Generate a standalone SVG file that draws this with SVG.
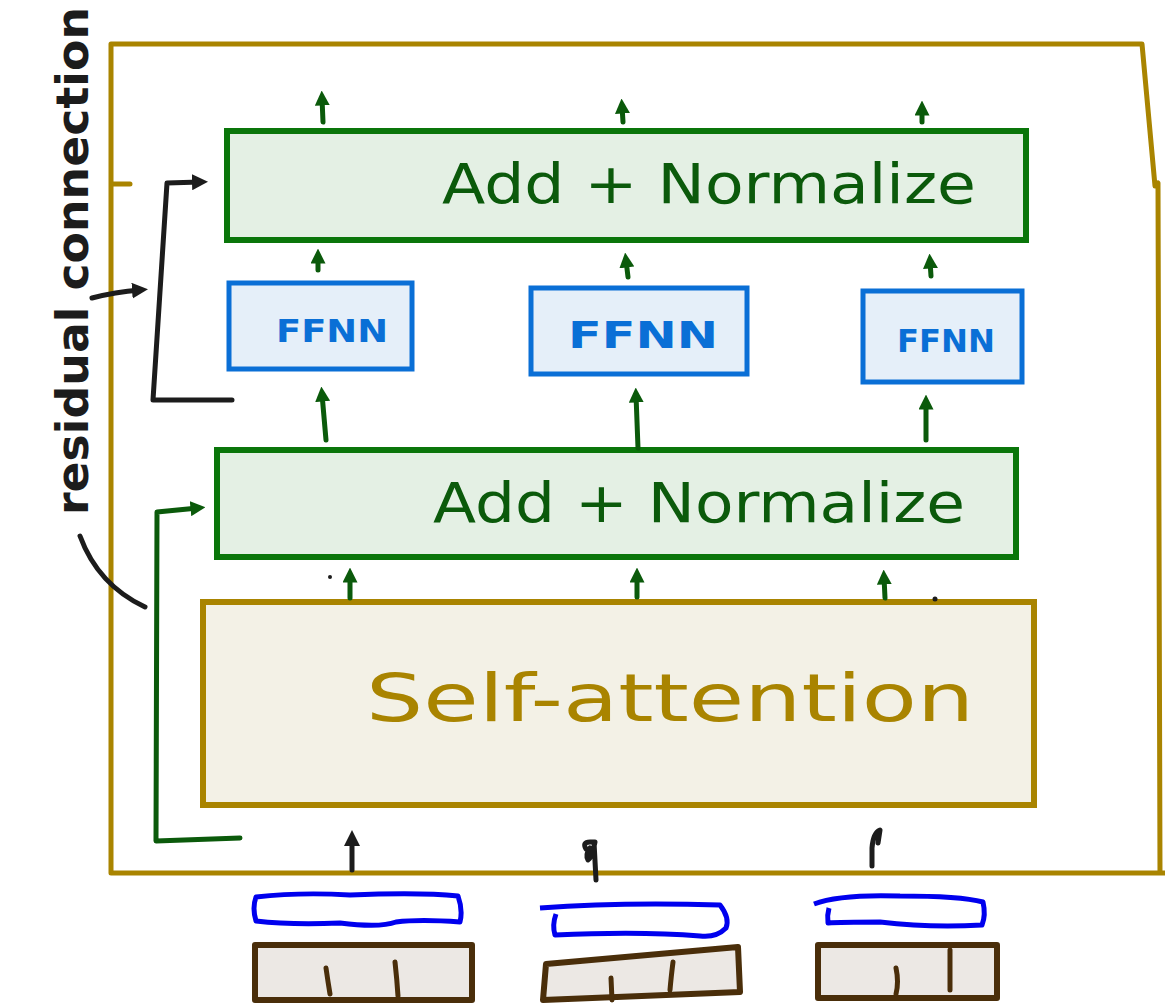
<svg xmlns="http://www.w3.org/2000/svg" width="1165" height="1006" viewBox="0 0 1165 1006">
<style>
.gold{fill:none;stroke:#a98400;stroke-width:5;stroke-linejoin:round;stroke-linecap:round}
.an rect{fill:#e4f0e4;stroke:#0a760a;stroke-width:6}
.ff rect{fill:#e5eff9;stroke:#0a6fd6;stroke-width:5}
.sa rect{fill:#f3f1e6;stroke:#a98400;stroke-width:6}
.in rect,.in path.box{fill:#ece8e4;stroke:#4a2e0a;stroke-width:6;stroke-linejoin:round}
.in path.mark{fill:none;stroke:#4a2e0a;stroke-width:5;stroke-linecap:round}
.in path.emb{fill:none;stroke:#0000ee;stroke-width:5;stroke-linejoin:round}
.tg{font-family:"DejaVu Sans",sans-serif;fill:#0b5a0b}
.tb{font-family:"DejaVu Sans",sans-serif;fill:#0a6fd6;font-weight:bold}
.ty{font-family:"DejaVu Sans",sans-serif;fill:#a98400}
.tk{font-family:"DejaVu Sans",sans-serif;fill:#1c1c1c;font-weight:bold}
.ga{fill:none;stroke:#0b5a0b;stroke-width:5;stroke-linecap:round;stroke-linejoin:round}
.ka{fill:none;stroke:#1c1c1c;stroke-width:5;stroke-linecap:round;stroke-linejoin:round}
</style>
<defs>
<marker id="hg" viewBox="0 0 10 10" refX="5" refY="5" markerWidth="3" markerHeight="3" orient="auto"><path d="M0,0 L10,5 L0,10 z" fill="#0b5a0b"/></marker>
<marker id="hk" viewBox="0 0 10 10" refX="5" refY="5" markerWidth="3.2" markerHeight="3.2" orient="auto"><path d="M0,0 L10,5 L0,10 z" fill="#1c1c1c"/></marker>
</defs>
<rect width="1165" height="1006" fill="#ffffff"/>

<g id="frame">
<path class="gold" d="M111,873 L111,44 L1142,44 L1155,186 L1158,183 L1160,873 M111,873 L1165,873 M111,184 L130,184"/>
</g>

<g id="self-attention" class="sa">
<rect x="203" y="602" width="831" height="203"/>
<text class="ty" x="670" y="721" font-size="66" text-anchor="middle" textLength="608" lengthAdjust="spacingAndGlyphs">Self-attention</text>
</g>

<g id="add-normalize-1" class="an">
<rect x="217" y="450" width="799" height="107"/>
<text class="tg" x="699" y="522" font-size="56" text-anchor="middle" textLength="532" lengthAdjust="spacingAndGlyphs">Add + Normalize</text>
</g>

<g id="add-normalize-2" class="an">
<rect x="227" y="131" width="799" height="109"/>
<text class="tg" x="709" y="203" font-size="56" text-anchor="middle" textLength="534" lengthAdjust="spacingAndGlyphs">Add + Normalize</text>
</g>

<g id="ffnn-1" class="ff">
<rect x="229" y="283" width="183" height="86"/>
<text class="tb" x="332" y="342" font-size="32" text-anchor="middle" textLength="112" lengthAdjust="spacingAndGlyphs">FFNN</text>
</g>
<g id="ffnn-2" class="ff">
<rect x="531" y="288" width="216" height="86"/>
<text class="tb" x="643" y="348" font-size="38" text-anchor="middle" textLength="150" lengthAdjust="spacingAndGlyphs">FFNN</text>
</g>
<g id="ffnn-3" class="ff">
<rect x="863" y="291" width="159" height="91"/>
<text class="tb" x="946" y="352" font-size="32" text-anchor="middle" textLength="98" lengthAdjust="spacingAndGlyphs">FFNN</text>
</g>

<g id="inputs" class="in">
<path class="emb" d="M256,897 Q300,892 350,895 Q420,892 458,896 Q463,910 460,922 Q420,919 396,922 Q380,928 340,923 Q290,925 256,921 Q252,908 256,897 Z"/>
<path class="emb" d="M540,908 Q620,902 720,905 Q730,918 726,928 Q716,938 700,936 Q640,931 555,935 Q552,925 556,914"/>
<path class="emb" d="M814,904 Q840,894 900,896 Q960,896 983,902 Q986,915 982,925 Q930,928 880,922 Q840,922 828,923 Q827,915 829,908"/>
<rect x="255" y="945" width="217" height="55"/>
<path class="box" d="M546,964 L738,947 L740,992 L543,1000 Z"/>
<rect x="818" y="945" width="179" height="53"/>
<path class="mark" d="M326,968 Q328,982 330,994 M395,962 Q397,980 398,996 M611,978 L612,1000 M673,962 Q671,978 670,990 M896,968 Q899,982 896,994 M950,950 L950,990"/>
</g>

<g id="residual-label">
<text class="tk" transform="translate(88,515) rotate(-90)" font-size="44" textLength="508" lengthAdjust="spacingAndGlyphs">residual connection</text>
</g>

<g id="connectors">
<path class="ga" marker-end="url(#hg)" d="M323,122 L322,98"/>
<path class="ga" marker-end="url(#hg)" d="M623,122 L622,106"/>
<path class="ga" marker-end="url(#hg)" d="M922,122 L922,108"/>
<path class="ga" marker-end="url(#hg)" d="M318,270 L318,256"/>
<path class="ga" marker-end="url(#hg)" d="M628,277 L626,260"/>
<path class="ga" marker-end="url(#hg)" d="M931,276 L930,261"/>
<path class="ga" marker-end="url(#hg)" d="M326,440 L322,394"/>
<path class="ga" marker-end="url(#hg)" d="M638,448 L636,395"/>
<path class="ga" marker-end="url(#hg)" d="M926,440 L926,402"/>
<path class="ga" marker-end="url(#hg)" d="M350,598 L350,575"/>
<path class="ga" marker-end="url(#hg)" d="M637,597 L637,575"/>
<path class="ga" marker-end="url(#hg)" d="M885,598 L884,577"/>
<path class="ga" marker-end="url(#hg)" d="M240,838 L156,841 L157,512 L198,508"/>
<path class="ka" marker-end="url(#hk)" d="M232,400 L153,400 L167,183 L200,182"/>
<path class="ka" marker-end="url(#hk)" d="M92,298 Q115,292 140,290"/>
<path class="ka" d="M80,536 Q98,585 145,607"/>
<circle cx="330" cy="577" r="2" fill="#1c1c1c"/>
<circle cx="935" cy="599" r="2.5" fill="#1c1c1c"/>
<path class="ka" marker-end="url(#hk)" d="M352,870 L352,838"/>
<path class="ka" d="M586,849 Q582,842 590,842 L595,842 Q592,858 588,860 Q585,855 590,848 M594,842 L596,880"/>
<path class="ka" d="M872,866 L872,848 Q873,833 880,830 L878,843"/>
</g>
</svg>
